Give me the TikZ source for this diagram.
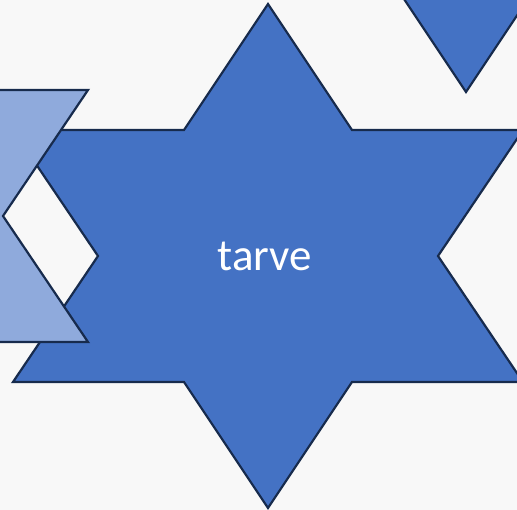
\documentclass[tikz,border=0pt]{standalone}
\usepackage{fontspec}
\setmainfont{Carlito}
\definecolor{bgc}{HTML}{F8F8F8}
\definecolor{starblue}{HTML}{4472C4}
\definecolor{lightblue}{HTML}{8FAADC}
\definecolor{edgec}{RGB}{23,43,77}
\tikzset{
  hexstar/.pic={
    \path[pic actions] (0,-252) -- (84,-126) -- (255,-126) -- (170,0) -- (255,126) -- (84,126)
      -- (0,252) -- (-84,126) -- (-255,126) -- (-170,0) -- (-255,-126) -- (-84,-126) -- cycle;
  },
  starstyle/.style={draw=edgec, line width=2.2pt, line join=miter, fill=starblue},
  lightstyle/.style={draw=edgec, line width=2.2pt, line join=miter, fill=lightblue},
  label/.style={text=white, font=\fontsize{45}{52}\selectfont, inner sep=0pt}
}
\begin{document}
\begin{tikzpicture}[x=1pt,y=-1pt]
\useasboundingbox (0,0) rectangle (517,510);
\fill[bgc] (0,0) rectangle (517,510);
\begin{scope}
\clip (0,0) rectangle (517,510);
\pic[starstyle] at (466,-160) {hexstar};
\pic[starstyle] at (268,256) {hexstar};
\pic[lightstyle] at (-167,216) {hexstar};
\end{scope}
\node[label, anchor=base] (t) at (265,271) {tarve};
\end{tikzpicture}
\end{document}
